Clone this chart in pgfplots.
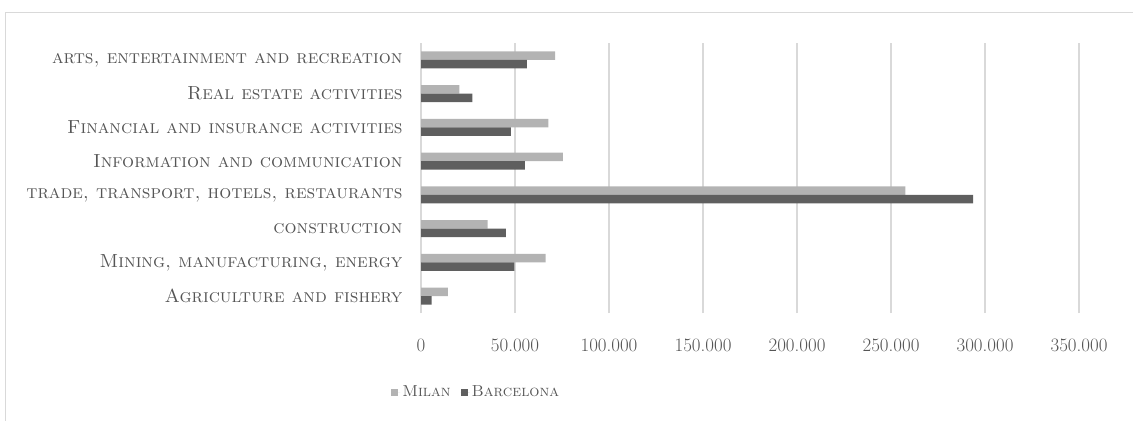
\documentclass[border=0pt]{standalone}
\usepackage{fontspec}
\usepackage{pgfplots}
\pgfplotsset{compat=1.18}

\definecolor{milan}{HTML}{B3B3B3}
\definecolor{barca}{HTML}{5F5F5F}
\definecolor{gridc}{HTML}{D9D9D9}
\definecolor{txt}{HTML}{555555}

\begin{document}
\begin{tikzpicture}[x=1bp,y=1bp]
\useasboundingbox (0,0) rectangle (1133,420);
% outer frame of the chart area
\draw[gridc, line width=1bp] (5.5,407) rectangle (1145,-10);
\begin{axis}[
  at={(421bp,107bp)}, anchor=south west,
  scale only axis,
  width=658bp, height=270bp,
  xbar, bar width=8.4bp,
  xmin=0, xmax=350000,
  ymin=-0.5, ymax=7.5,
  xtick={0,50000,...,350000},
  scaled x ticks=false,
  /pgf/number format/1000 sep={.},
  /pgf/number format/fixed,
  /pgf/number format/precision=0,
  /pgf/number format/assume math mode=true,
  xticklabel style={font=\fontsize{19}{22}\selectfont, text=txt, yshift=-22bp},
  ytick={0,...,7},
  yticklabels={
    \textsc{Agriculture and fishery}\hspace{4bp},
    \textsc{Mining, manufacturing, energy},
    \textsc{construction},
    \textsc{trade, transport, hotels, restaurants}\hspace{4bp},
    \textsc{Information and communication},
    \textsc{Financial and insurance activities},
    \textsc{Real estate activities},
    \textsc{arts, entertainment and recreation}},
  yticklabel style={font=\fontsize{19}{22}\selectfont, text=txt, anchor=east, xshift=-15bp},
  major tick length=0pt,
  axis line style={draw=none},
  xmajorgrids, grid style={gridc, line width=1.3bp},
  legend columns=2,
  legend style={at={(0.084,-0.293)}, anchor=center, draw=none, fill=none,
    font=\fontsize{16}{19}\selectfont, text=txt,
    /tikz/every even column/.append style={column sep=8bp}},
  legend image code/.code={\fill[#1] (0bp,-3.5bp) rectangle (7bp,3.5bp);
    \path (0bp,0bp) -- (9bp,0bp);},
]
\addplot[fill=milan, draw=none, bar shift=4.3bp] coordinates {
  (14300,0) (66300,1) (35400,2) (257600,3) (75500,4) (67700,5) (20400,6) (71400,7)};
\addplot[fill=barca, draw=none, bar shift=-4.3bp] coordinates {
  (5700,0) (49600,1) (45200,2) (293700,3) (55300,4) (47800,5) (27300,6) (56300,7)};
\legend{\textsc{Milan}, \textsc{Barcelona}}
\end{axis}
\end{tikzpicture}
\end{document}
